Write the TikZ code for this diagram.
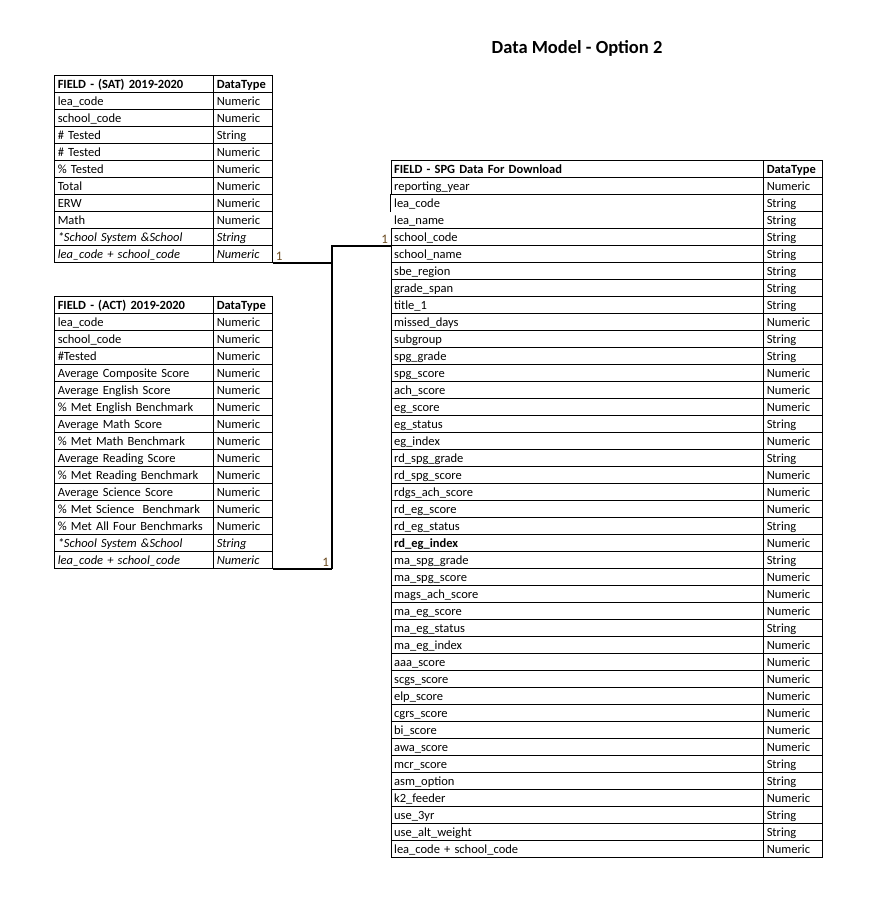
\documentclass[tikz,border=0pt]{standalone}
\usepackage{fontspec}
\setmainfont{Carlito}
\definecolor{lblcol}{HTML}{6B4A1F}
\tikzset{
  cell/.style={draw=black, line width=0.9pt, rectangle, anchor=north west,
    minimum height=17pt, inner xsep=3pt, inner ysep=0pt, align=left,
    text height=10.5pt, text depth=1.5pt, font=\fontsize{12.5}{14}\selectfont, text=black},
  fcol/.style={cell, text width=153pt},
  tcol/.style={cell, text width=53pt},
  sfcol/.style={cell, text width=366.6pt},
  gridline/.style={draw=black, line width=0.9pt},
  conn/.style={draw=black, line width=2.2pt},
  lbl/.style={font=\fontsize{13}{14}\selectfont, text=lblcol, inner xsep=2.5pt, inner ysep=2.5pt},
  nodraw/.style={draw=none},
  cur/.style={}
}
\begin{document}
\begin{tikzpicture}[x=1pt,y=-1pt]
\useasboundingbox (0,0) rectangle (872,905);
\node[font=\bfseries\fontsize{18.5}{20}\selectfont] (title) at (577,48.5) {Data Model - Option 2};

% SAT table
\foreach \f/\t [count=\i from 0] in {
  {\bfseries FIELD - (SAT) 2019-2020}/{\bfseries DataType},
  lea\_code/Numeric,
  school\_code/Numeric,
  \# Tested/String,
  \# Tested/Numeric,
  \% Tested/Numeric,
  Total/Numeric,
  ERW/Numeric,
  Math/Numeric,
  {\itshape *School System \&School}/{\itshape String},
  {\itshape lea\_code + school\_code}/{\itshape Numeric}}{
  \node[fcol] (sat-f-\i) at (54.3,75+17*\i) {\f};
  \node[tcol] (sat-t-\i) at (213.3,75+17*\i) {\t};
}

% ACT table
\foreach \f/\t [count=\i from 0] in {
  {\bfseries FIELD - (ACT) 2019-2020}/{\bfseries DataType},
  lea\_code/Numeric,
  school\_code/Numeric,
  \#Tested/Numeric,
  Average Composite Score/Numeric,
  Average English Score/Numeric,
  \% Met English Benchmark/Numeric,
  Average Math Score/Numeric,
  \% Met Math Benchmark/Numeric,
  Average Reading Score/Numeric,
  \% Met Reading Benchmark/Numeric,
  Average Science Score/Numeric,
  \% Met Science~ Benchmark/Numeric,
  \% Met All Four Benchmarks/Numeric,
  {\itshape *School System \&School}/{\itshape String},
  {\itshape lea\_code + school\_code}/{\itshape Numeric}}{
  \node[fcol] (act-f-\i) at (54.3,296+17*\i) {\f};
  \node[tcol] (act-t-\i) at (213.3,296+17*\i) {\t};
}

% SPG table
\foreach \f/\t [count=\i from 0] in {
  {\bfseries FIELD - SPG Data For Download}/{\bfseries DataType},
  reporting\_year/Numeric,
  lea\_code/String,
  lea\_name/String,
  school\_code/String,
  school\_name/String,
  sbe\_region/String,
  grade\_span/String,
  title\_1/String,
  missed\_days/Numeric,
  subgroup/String,
  spg\_grade/String,
  spg\_score/Numeric,
  ach\_score/Numeric,
  eg\_score/Numeric,
  eg\_status/String,
  eg\_index/Numeric,
  rd\_spg\_grade/String,
  rd\_spg\_score/Numeric,
  rdgs\_ach\_score/Numeric,
  rd\_eg\_score/Numeric,
  rd\_eg\_status/String,
  {\bfseries rd\_eg\_index}/Numeric,
  ma\_spg\_grade/String,
  ma\_spg\_score/Numeric,
  mags\_ach\_score/Numeric,
  ma\_eg\_score/Numeric,
  ma\_eg\_status/String,
  ma\_eg\_index/Numeric,
  aaa\_score/Numeric,
  scgs\_score/Numeric,
  elp\_score/Numeric,
  cgrs\_score/Numeric,
  bi\_score/Numeric,
  awa\_score/Numeric,
  mcr\_score/String,
  asm\_option/String,
  k2\_feeder/Numeric,
  use\_3yr/String,
  use\_alt\_weight/String,
  lea\_code + school\_code/Numeric}{
  \ifnum\i=2 \tikzset{cur/.style={nodraw}}\fi
  \ifnum\i=3 \tikzset{cur/.style={nodraw}}\fi
  \node[sfcol,cur] (spg-f-\i) at (390.7,160+17*\i) {\f};
  \node[tcol] (spg-t-\i) at (763.3,160+17*\i) {\t};
}
% partial border of the lea_code cell
\draw[gridline] (spg-f-2.south west) -- (spg-f-2.north west) -- (spg-f-2.north east);

% connectors
\draw[conn] (sat-t-10.south east) -- ++(58.5,0) coordinate (ja);
\draw[conn] (act-t-15.south east) -- ++(58.5,0) coordinate (jb);
\draw[conn] (jb) |- (spg-f-4.south west);

% cardinality labels
\node[lbl, anchor=south west] (one-sat) at (sat-t-10.south east) {1};
\node[lbl, anchor=south east] (one-act) at (jb) {1};
\node[lbl, anchor=south east] (one-spg) at (spg-f-4.south west) {1};
\end{tikzpicture}
\end{document}
